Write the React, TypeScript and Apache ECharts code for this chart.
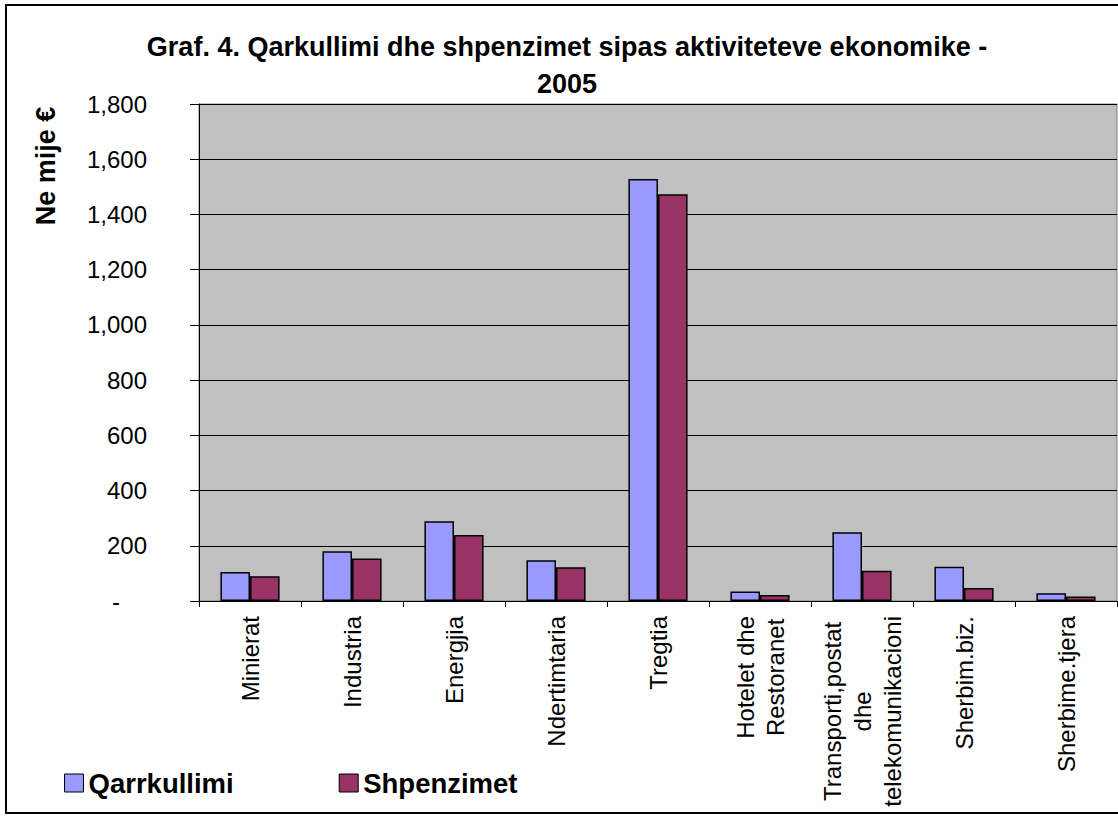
import React, { useEffect, useRef } from "react";
import * as echarts from "echarts";

const categories = [
  "Minierat",
  "Industria",
  "Energjia",
  "Ndertimtaria",
  "Tregtia",
  "Hotelet dhe\nRestoranet",
  "Transporti,postat\ndhe\ntelekomunikacioni",
  "Sherbim.biz.",
  "Sherbime.tjera",
];
const qarrkullimi = [105, 180, 289, 148, 1528, 34, 249, 124, 28];
const shpenzimet = [90, 154, 239, 122, 1473, 22, 110, 47, 16];
const seriesNames = ["Qarrkullimi", "Shpenzimet"];
const titleText = "Graf. 4. Qarkullimi dhe shpenzimet sipas aktiviteteve ekonomike -\n2005";
const yAxisName = "Ne mije €";

const FONT = "'Liberation Sans', Arial, sans-serif";

export default function App() {
  const ref = useRef<HTMLDivElement>(null);
  useEffect(() => {
    if (!ref.current) return;
    const chart = echarts.init(ref.current, undefined, { renderer: "svg" });
    chart.setOption({
      animation: false,
      backgroundColor: "#ffffff",
      graphic: [
        {
          type: "rect",
          shape: { x: 6, y: 5, width: 1140, height: 808 },
          style: { fill: "none", stroke: "#000000", lineWidth: 2 },
          silent: true,
          z: 100,
        },
        {
          type: "text",
          x: 567,
          y: 28,
          style: {
            text: titleText,
            textAlign: "center",
            textVerticalAlign: "top",
            fontFamily: FONT,
            fontWeight: "bold",
            fontSize: 27,
            lineHeight: 37,
            fill: "#000000",
          },
        },
        {
          type: "text",
          x: 46,
          y: 166,
          rotation: Math.PI / 2,
          style: {
            text: yAxisName,
            textAlign: "center",
            textVerticalAlign: "middle",
            fontFamily: FONT,
            fontWeight: "bold",
            fontSize: 27,
            fill: "#000000",
          },
        },
      ],
      legend: {
        data: seriesNames,
        left: 64,
        top: 769,
        padding: 0,
        itemWidth: 19,
        itemHeight: 18,
        itemGap: 105,
        icon: "rect",
        itemStyle: { borderWidth: 1 },
        textStyle: {
          fontFamily: FONT,
          fontWeight: "bold",
          fontSize: 27.5,
          color: "#000000",
          lineHeight: 24,
        },
      },
      grid: {
        left: 199,
        right: 1,
        top: 104,
        bottom: 215,
        show: true,
        backgroundColor: "#C0C0C0",
        borderColor: "#808080",
        borderWidth: 1,
      },
      xAxis: {
        type: "category",
        data: categories,
        axisLine: { lineStyle: { color: "#000000", width: 1 } },
        axisTick: { show: true, length: 6, lineStyle: { color: "#000000" } },
        axisLabel: {
          rotate: 90,
          interval: 0,
          margin: 15,
          color: "#000000",
          fontFamily: FONT,
          fontSize: 24,
          lineHeight: 30,
          formatter: (v: string) =>
            v
              .split("\n")
              .map((l) => "{c|" + l + "}")
              .join("\n"),
          rich: {
            c: {
              align: "center",
              fontFamily: FONT,
              fontSize: 24,
              lineHeight: 30,
              color: "#000000",
            },
          },
        },
      },
      yAxis: {
        type: "value",
        min: 0,
        max: 1800,
        interval: 200,
        axisLine: { show: true, lineStyle: { color: "#000000", width: 1 } },
        axisTick: { show: true, length: 9, lineStyle: { color: "#000000" } },
        splitLine: { show: true, lineStyle: { color: "#000000", width: 1 } },
        axisLabel: {
          margin: 52,
          color: "#000000",
          fontFamily: FONT,
          fontSize: 24,
          formatter: (v: number) =>
            v === 0 ? "{z|-}" : v.toLocaleString("en-US"),
          rich: {
            z: {
              fontFamily: FONT,
              fontSize: 24,
              color: "#000000",
              padding: [0, 27, 0, 0],
            },
          },
        },
      },
      series: [
        {
          name: seriesNames[0],
          type: "bar",
          data: qarrkullimi,
          barGap: "0%",
          barCategoryGap: "42%",
          itemStyle: { color: "#9999FF", borderColor: "#000000", borderWidth: 1.5 },
        },
        {
          name: seriesNames[1],
          type: "bar",
          data: shpenzimet,
          barGap: "0%",
          barCategoryGap: "42%",
          itemStyle: { color: "#993366", borderColor: "#000000", borderWidth: 1.5 },
        },
      ],
    });
    return () => chart.dispose();
  }, []);
  return (
    <div
      ref={ref}
      style={{ position: "fixed", left: 0, top: 0, width: 1118, height: 816 }}
    />
  );
}
